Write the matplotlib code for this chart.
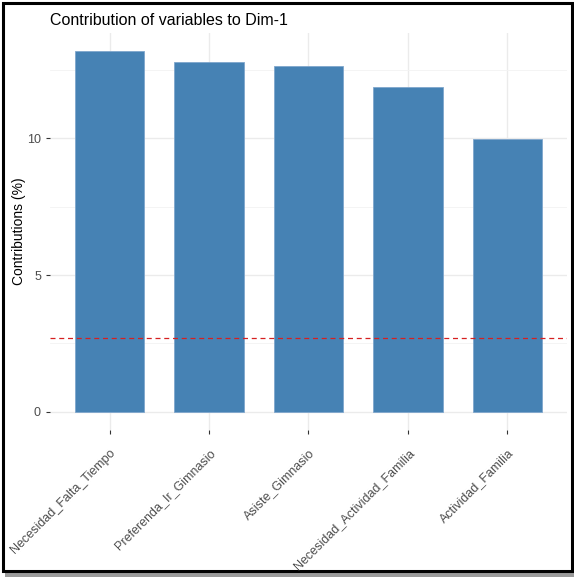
import matplotlib.pyplot as plt
from matplotlib.patches import Rectangle

# contributions of variables to Dim-1
variables = ["Necesidad_Falta_Tiempo", "Preferenda_Ir_Gimnasio", "Asiste_Gimnasio",
             "Necesidad_Actividad_Familia", "Actividad_Familia"]
contrib = [13.18, 12.77, 12.62, 11.86, 9.98]
ref_line = 100 / 37

plt.rcParams['font.family'] = ['Liberation Sans', 'DejaVu Sans']

fig = plt.figure(figsize=(5.74, 5.77), dpi=100)

# frame with shadow like the screenshot
fig.patches.append(Rectangle((0.008, 0.0), 0.992, 0.99, transform=fig.transFigure,
                             facecolor='#9a9a9a', edgecolor='none', zorder=-3))
fig.patches.append(Rectangle((0.005, 0.01), 0.992, 0.985, transform=fig.transFigure,
                             facecolor='white', edgecolor='black', linewidth=2.2, zorder=-2))

ax = fig.add_axes([0.0871, 0.2548, 0.9007, 0.688])
x = list(range(1, len(variables) + 1))
ax.bar(x, contrib, width=0.7, color='steelblue', edgecolor='#7fa6cc', linewidth=0.6, zorder=2)
ax.axhline(ref_line, color='#d62020', linestyle=(0, (4, 3)), linewidth=0.9, zorder=3)

ax.set_xlim(0.4, len(variables) + 0.6)
ax.set_ylim(-0.05 * max(contrib), max(contrib) * 1.05)
ax.set_yticks([0, 5, 10])
ax.set_yticks([2.5, 7.5, 12.5], minor=True)
ax.set_xticks(x)
ax.set_xticklabels(variables, rotation=45, ha='right', va='top', rotation_mode='anchor',
                   fontsize=9, color='#4d4d4d')
ax.tick_params(axis='y', labelsize=9, labelcolor='#4d4d4d', length=3, color='#333333')
ax.tick_params(axis='y', which='minor', length=0)
ax.tick_params(axis='x', length=3, color='#333333', pad=9)

ax.grid(True, which='major', color='#ebebeb', linewidth=1.0, zorder=0)
ax.grid(True, which='minor', axis='y', color='#f3f3f3', linewidth=0.6, zorder=0)
ax.set_axisbelow(True)
for s in ax.spines.values():
    s.set_visible(False)

ax.set_ylabel('Contributions (%)', fontsize=10, color='black', labelpad=1)
ax.set_title('Contribution of variables to Dim-1', loc='left', fontsize=11.5, pad=6)

fig.savefig('out.png', dpi=100)
